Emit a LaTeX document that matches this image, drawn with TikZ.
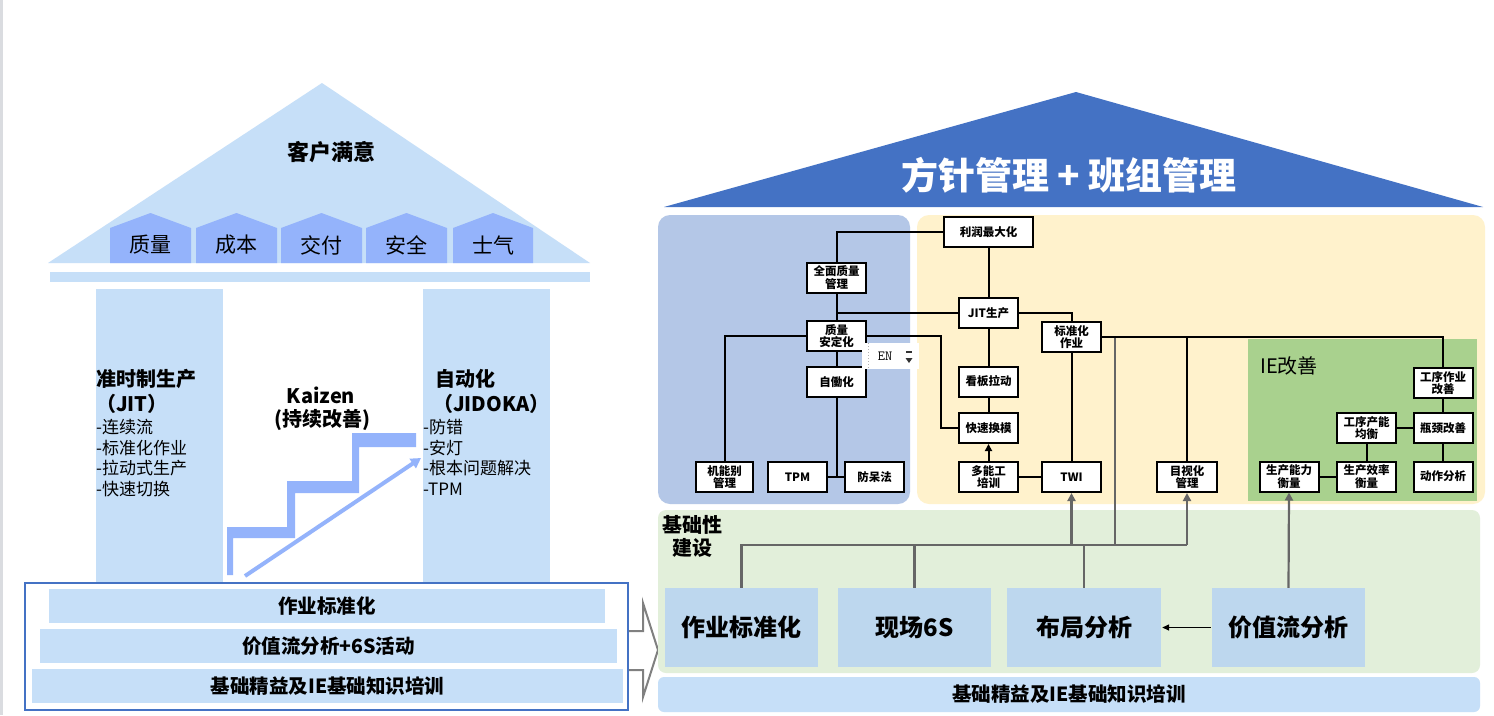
\documentclass[tikz,border=0pt]{standalone}
\usepackage{fontspec}
\setmainfont{Noto Sans CJK SC}
\usetikzlibrary{arrows.meta,calc}
\definecolor{lblue}{HTML}{C6DFF8}
\definecolor{peri}{HTML}{94B3FB}
\definecolor{roofblue}{HTML}{4472C4}
\definecolor{panelblue}{HTML}{B4C7E7}
\definecolor{panelyellow}{HTML}{FFF2CC}
\definecolor{iegreen}{HTML}{A9D18E}
\definecolor{fgreen}{HTML}{E2EFDA}
\definecolor{fboxc}{HTML}{BDD7EE}
\definecolor{glinec}{HTML}{666666}
\definecolor{edgegray}{HTML}{DADCE0}
\newcommand\myfs[2]{\fontsize{#1}{#2}\selectfont}
\begin{document}
\begin{tikzpicture}[x=1pt,y=-1pt,
  wbox/.style={draw=black, line width=2pt, fill=white, inner sep=0pt,
    minimum width=59pt, minimum height=30pt, align=center,
    font=\bfseries\myfs{11.5}{12.5}},
  fbx/.style={fill=fboxc, minimum width=153pt, minimum height=79pt, inner sep=0pt,
    font=\bfseries\myfs{24}{26}},
  barbox/.style={fill=lblue, inner sep=0pt, minimum height=34pt, font=\bfseries\myfs{19.5}{22}},
  pentlbl/.style={inner sep=0pt, font=\myfs{21}{23}},
  blk/.style={black, line width=2pt},
  gl/.style={glinec, line width=2.2pt},
  garr/.style={gl, -{Triangle[length=8pt,width=8pt]}},
  barr/.style={blk, -{Triangle[length=7pt,width=7pt]}}]
\useasboundingbox (0,0) rectangle (1494,715);
\fill[white] (0,0) rectangle (1494,715);
\fill[edgegray] (0,0) rectangle (3,715);

% ================= LEFT HOUSE =================
\fill[lblue] (48,263) -- (322,83) -- (590,263) -- cycle;
\node[font=\bfseries\myfs{22}{24}] (cust) at (331,152) {客户满意};
\foreach \xa/\xb/\t/\n in {110/191/质量/p1, 196/277/成本/p2, 281/362/交付/p3, 366/447/安全/p4, 453/533/士气/p5}{
  \fill[peri] (\xa,263) -- (\xa,228) -- ({(\xa+\xb)/2},213) -- (\xb,228) -- (\xb,263) -- cycle;
  \node[pentlbl] (\n) at ({(\xa+\xb)/2},245) {\t};
}
\fill[lblue] (50,272) rectangle (590,282);
\fill[lblue] (96,289) rectangle (223,583);
\fill[lblue] (423,289) rectangle (550,583);

\node[anchor=north west, align=left, inner sep=0pt, font=\bfseries\myfs{20}{25}] (jitT) at (96,369) {准时制生产\\（JIT）};
\node[anchor=north west, align=left, inner sep=0pt, font=\myfs{17}{20.6}] (jitL) at (96,419) {-连续流\\-标准化作业\\-拉动式生产\\-快速切换};
\node[anchor=north west, align=left, inner sep=0pt, font=\bfseries\myfs{20}{25}] (jidT) at (433,369) {\hspace*{2pt}自动化\\（JIDOKA）};
\node[anchor=north west, align=left, inner sep=0pt, font=\myfs{17}{20.6}] (jidL) at (423,419) {-防错\\-安灯\\-根本问题解决\\-TPM};

\node[font=\bfseries\myfs{20}{22}, inner sep=0pt] (kz1) at (321,395) {Kaizen};
\node[font=\bfseries\myfs{20}{22}, inner sep=0pt] (kz2) at (322,420) {(持续改善)};

\fill[peri] (227,575) -- (227,527) -- (287,527) -- (287,481) -- (352,481) -- (352,433)
  -- (416,433) -- (416,447) -- (359,447) -- (359,493) -- (295,493) -- (295,538)
  -- (233,538) -- (233,575) -- cycle;
\coordinate (kzs) at (245,576);
\coordinate (kze) at (421,458);
\draw[peri, line width=4pt, -{Triangle[length=10pt,width=11pt]}] (kzs) -- (kze);

\node[barbox, minimum width=556pt] (lb1) at (327,606) {作业标准化};
\node[barbox, minimum width=577pt] (lb2) at (328.5,646) {价值流分析+6S活动};
\node[barbox, minimum width=591pt] (lb3) at (327.5,686) {基础精益及IE基础知识培训};
\draw[roofblue, line width=2.5pt] (25,583) rectangle (628,710);

% hollow arrow
\filldraw[fill=white, draw=gray, line width=2pt, line join=miter]
  (629,631) -- (643,631) -- (643,603) -- (658,650) -- (643,697) -- (643,670) -- (629,670);

% ================= RIGHT HOUSE =================
\fill[roofblue] (664,207) -- (1076,92) -- (1483,207) -- cycle;
\node[text=white, font=\bfseries\myfs{37}{40}, inner sep=0pt] (title) at (1069,175) {方针管理 + 班组管理};

\fill[panelblue, rounded corners=12pt] (658,215) rectangle (910,504);
\fill[panelyellow, rounded corners=12pt] (917,215) rectangle (1485,504);
\fill[iegreen] (1248,339) rectangle (1477,501);
\fill[fgreen, rounded corners=8pt] (658,510) rectangle (1480,673);
\node[fill=lblue, rounded corners=6pt, minimum width=822pt, minimum height=35pt, inner sep=0pt,
  font=\bfseries\myfs{19.5}{22}] (rbar) at (1069,694.5) {基础精益及IE基础知识培训};

\node[anchor=west, inner sep=0pt, font=\myfs{20}{22}] (ielbl) at (1260,366) {IE改善};
\node[align=center, inner sep=0pt, font=\bfseries\myfs{20}{23}] (basic) at (692,536) {基础性\\建设};

% foundation boxes
\node[fbx] (fstd) at (741.5,627.5) {作业标准化};
\node[fbx] (f6s) at (914.5,627.5) {现场6S};
\node[fbx, minimum width=154pt] (flay) at (1084,627.5) {布局分析};
\node[fbx] (fvsm) at (1288.5,627.5) {价值流分析};

% white boxes
\node[wbox] (qmg) at (836.5,277.5) {全面质量\\管理};
\node[wbox] (qst) at (836.5,336) {质量\\安定化};
\node[wbox] (jido) at (836.5,382) {自働化};
\node[wbox, minimum width=57pt] (jnb) at (724.5,477) {机能别\\管理};
\node[wbox] (tpm) at (797.5,477) {TPM};
\node[wbox] (fcf) at (874.5,477) {防呆法};
\node[wbox, minimum width=89pt] (profit) at (988.5,232) {利润最大化};
\node[wbox] (jit) at (988.5,313) {JIT生产};
\node[wbox] (stdw) at (1071.5,337) {标准化\\作业};
\node[wbox] (kanban) at (988.5,381.5) {看板拉动};
\node[wbox] (smed) at (988.5,428) {快速换模};
\node[wbox] (multi) at (988.5,477) {多能工\\培训};
\node[wbox] (twi) at (1071.5,477) {TWI};
\node[wbox, minimum width=60pt] (visual) at (1187,477) {目视化\\管理};
\node[wbox] (opimp) at (1443,383) {工序作业\\改善};
\node[wbox] (bneck) at (1443,428) {瓶颈改善};
\node[wbox] (motion) at (1443,476.5) {动作分析};
\node[wbox] (balance) at (1366.5,428) {工序产能\\均衡};
\node[wbox] (eff) at (1366.5,476.5) {生产效率\\衡量};
\node[wbox] (capbox) at (1289,476.5) {生产能力\\衡量};

% black tree lines
\coordinate (qx) at (941,380);
\draw[blk] (profit.west) -| (qmg.north);
\draw[blk] (qmg.south) -- (qst.north);
\draw[blk] (jit.west) -- (jit.west -| qmg.south);
\draw[blk] (qst.west) -| (jnb.north);
\draw[blk] (qst.east) -| (qx) |- (smed.west);
\draw[blk] (qst.south) -- (jido.north);
\draw[blk] (jido.south) -- (jido.south |- tpm.east);
\draw[blk] (tpm.east) -- (fcf.west);
\draw[blk] (profit.south) -- (jit.north);
\draw[blk] (jit.east) -| (stdw.north);
\draw[blk] (jit.south) -- (kanban.north);
\draw[blk] (kanban.south) -- (smed.north);
\draw[barr] (multi.north) -- (smed.south);
\draw[blk] (multi.east) -- (twi.west);
\draw[blk] (stdw.south) -- (twi.north);
\draw[blk] (opimp.south) -- (bneck.north);
\draw[blk] (bneck.south) -- (motion.north);
\draw[blk] (balance.east) -- (bneck.west);
\draw[blk] (balance.south) -- (eff.north);
\draw[blk] (capbox.east) -- (eff.west);

% grey connectors
\coordinate (busy) at (0,545);
\coordinate (g1) at (1115,545);
\draw[gl] (fstd.north) |- (visual.south |- busy);
\draw[gl] (f6s.north) -- (f6s.north |- busy);
\draw[gl] (flay.north) -- (flay.north |- busy);
\draw[garr] (twi.south |- busy) -- (twi.south);
\draw[garr] (visual.south |- busy) -- (visual.south);
\draw[gl] (g1) -- (g1 |- stdw.east);
\draw[garr] (fvsm.north) -- (capbox.south);
\draw[blk, line width=1.4pt, -{Triangle[length=7pt,width=6pt]}, shorten <=1pt, shorten >=1pt] (fvsm.west) -- (flay.east);

\draw[blk] (stdw.east) -| (opimp.north);
\draw[blk] (stdw.east -| visual.north) -- (visual.north);

% EN widget
\fill[white] (862,343) rectangle (919,369);
\draw[gray!60, line width=1pt, dotted] (868,343) -- (868,369);
\node[font=\ttfamily\myfs{14}{14}, inner sep=0pt] (en) at (885,356) {EN};
\fill[black!80] (906,351) rectangle (912,353);
\fill[black!80] (905.5,358) -- (912.5,358) -- (909,363) -- cycle;
\end{tikzpicture}
\end{document}
